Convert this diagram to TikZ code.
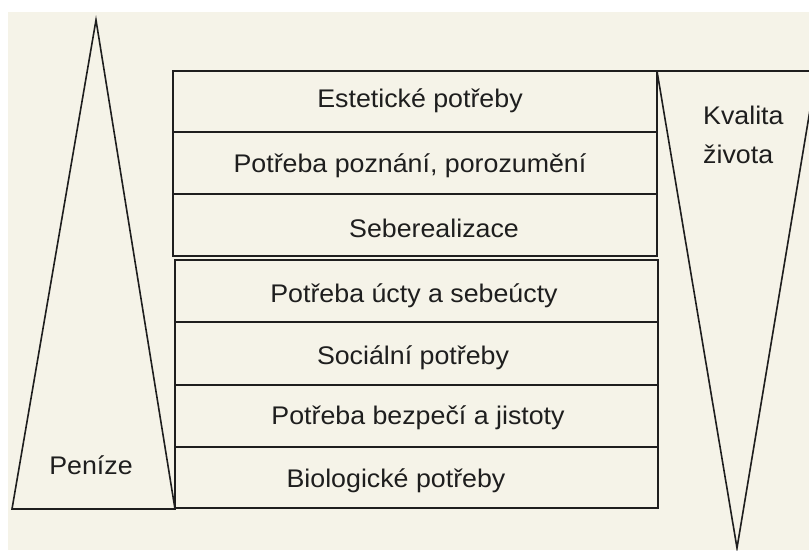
\documentclass[tikz,border=0pt]{standalone}
\usepackage{fontspec}
\setmainfont{Liberation Sans}[FakeStretch=1.05]
\usetikzlibrary{positioning}
\definecolor{paper}{RGB}{245,243,232}
\definecolor{ink}{RGB}{30,30,30}

\begin{document}
\begin{tikzpicture}[x=1pt, y=-1pt, level/.style = {draw=ink, line width=1.6pt}, need/.style = {font=\fontsize{25.5}{39}\selectfont, text=ink, inner sep=0pt, anchor=base}]

    % background
    \useasboundingbox (0,0) rectangle (809,550);
    \fill[paper] (8,12) rectangle (809,550);

    % money and quality of life
    \draw[level, line join=miter] (12,509) -- (96,20) -- (175,509) -- cycle;
    \draw[level] (809,71) -- (657,71) -- (737,548) -- (810,110);

    % pyramid of needs
    \foreach \top/\bot in {71/132, 132/194, 194/256}
        \draw[level] (173,\top) rectangle (657,\bot);
    \foreach \top/\bot in {260/322, 322/385, 385/447, 447/508}
        \draw[level] (175,\top) rectangle (658,\bot);

    \node[need] (estet) at (420,107) {Estetické potřeby};
    \node[need] (pozn)  at (410,172) {Potřeba poznání, porozumění};
    \node[need] (seber) at (434,237) {Seberealizace};
    \node[need] (ucta)  at (414,302) {Potřeba úcty a sebeúcty};
    \node[need] (soc)   at (413,364) {Sociální potřeby};
    \node[need] (bezp)  at (418,424) {Potřeba bezpečí a jistoty};
    \node[need] (bio)   at (396,487) {Biologické potřeby};

    \node[need] (penize) at (91,474) {Peníze};
    \node[need, anchor=base west, align=left] (kval) at (703,163) {Kvalita\\života};

\end{tikzpicture}
\end{document}
